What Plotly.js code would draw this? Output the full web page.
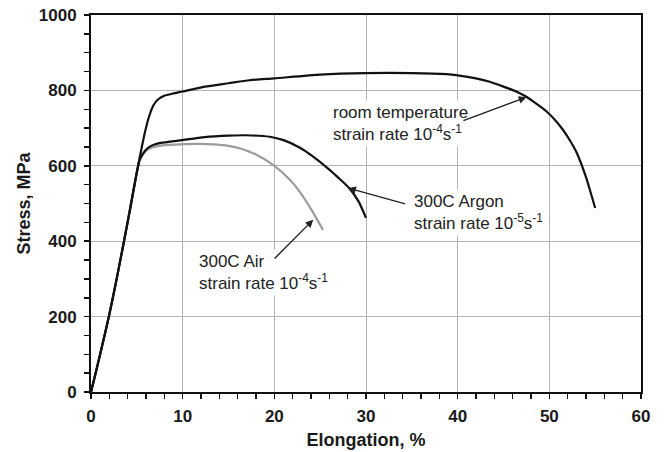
<!DOCTYPE html>
<html>
<head>
<meta charset="utf-8">
<script src="https://cdn.plot.ly/plotly-3.0.1.min.js"></script>
<style>
  html, body { margin: 0; padding: 0; background: #fff; }
  #chart { width: 665px; height: 452px; }
</style>
</head>
<body>
<div id="chart"></div>
<script>
// Tensile curves: stress (MPa) vs elongation (%)
const roomElong = [0, 0.4, 0.9, 1.4, 1.95, 2.8, 3.6, 4.3, 4.9, 5.3, 5.8, 6.3, 6.8, 7.3, 8.0, 9.0, 10.0, 12.4, 15, 17.3, 20, 25, 30, 35, 38.8, 40, 42, 43.5, 45, 46.5, 47.5, 48.5, 49.7, 50.5, 51.5, 52.3, 53.0, 54.0, 54.5, 55.0];
const roomStress = [0, 40, 90, 142, 200, 300, 400, 490, 570, 620, 680, 728, 760, 776, 786, 792, 797, 810, 819, 827, 832, 842, 846, 846, 843, 840, 832, 823, 810, 796, 783, 766, 744, 725, 695, 665, 634, 570, 530, 488];

const argonElong = [0, 0.4, 0.9, 1.4, 1.95, 2.8, 3.6, 4.3, 4.9, 5.3, 5.8, 6.3, 7.0, 8.0, 9.9, 12.4, 15, 17, 19.5, 21, 22.8, 24.2, 26, 27, 28.2, 29.2, 30.0];
const argonStress = [0, 40, 90, 142, 200, 300, 400, 490, 570, 615, 637, 649, 657, 662, 668, 676, 680, 681, 677, 668, 648, 625, 590, 568, 540, 505, 462];

const airElong = [0, 0.4, 0.9, 1.4, 1.95, 2.8, 3.6, 4.3, 4.9, 5.3, 5.8, 6.3, 7.0, 8.0, 9.7, 12, 13.3, 15, 16.3, 18, 19.9, 21.7, 22.8, 24.2, 25.3];
const airStress = [0, 40, 90, 142, 200, 300, 400, 490, 570, 615, 634, 645, 651, 655, 657, 658, 657, 653, 646, 630, 602, 563, 530, 477, 430];

const FONT = '"Liberation Sans", Arial, Helvetica, sans-serif';
const INK = '#1a1a1a';

const traces = [
  { x: airElong, y: airStress, name: '300C Air', mode: 'lines',
    line: { color: '#9c9c9c', width: 2.2, shape: 'spline', smoothing: 0.6 } },
  { x: argonElong, y: argonStress, name: '300C Argon', mode: 'lines',
    line: { color: '#111', width: 2.2, shape: 'spline', smoothing: 0.6 } },
  { x: roomElong, y: roomStress, name: 'room temperature', mode: 'lines',
    line: { color: '#111', width: 2.2, shape: 'spline', smoothing: 0.6 } }
];

function label(x, y, text) {
  return { x: x, y: y, xref: 'x', yref: 'y', text: text, showarrow: false,
    xanchor: 'left', yanchor: 'middle', align: 'left',
    bgcolor: '#fff', borderpad: 2,
    font: { family: FONT, size: 17, color: '#222' } };
}
function pointer(x0, y0, x1, y1) {
  return { x: x1, y: y1, ax: x0, ay: y0, xref: 'x', yref: 'y', axref: 'x', ayref: 'y',
    text: ' ', showarrow: true, arrowhead: 2, arrowsize: 1.1, arrowwidth: 1.4,
    arrowcolor: '#222', standoff: 0, startstandoff: 0 };
}

const annotations = [
  label(26.1, 712, 'room temperature<br>strain rate 10<sup>-4</sup>s<sup>-1</sup>'),
  label(34.9, 476, '300C Argon<br>strain rate 10<sup>-5</sup>s<sup>-1</sup>'),
  label(11.5, 318, '300C Air<br>strain rate 10<sup>-4</sup>s<sup>-1</sup>'),
  pointer(40.3, 717, 47.5, 782),
  pointer(34.6, 497, 28.06, 541),
  pointer(19.7, 346, 24.24, 457)
];

const axisCommon = {
  showline: true, linecolor: '#111', linewidth: 2, mirror: true,
  showgrid: true, gridcolor: '#b4b4b4', gridwidth: 1,
  zeroline: false,
  ticks: 'outside', ticklen: 5, tickwidth: 1.5, tickcolor: '#111',
  tickfont: { family: FONT, size: 17, color: INK, weight: 'bold' }
};

const layout = {
  width: 665, height: 452,
  margin: { l: 91, r: 24, t: 15, b: 60 },
  paper_bgcolor: '#fff', plot_bgcolor: '#fff',
  showlegend: false,
  xaxis: Object.assign({}, axisCommon, {
    range: [0, 60], tick0: 0, dtick: 10,
    ticklabelstandoff: 3,
    minor: { dtick: 2, ticks: 'outside', ticklen: 5, tickwidth: 1.5, tickcolor: '#111', showgrid: false },
    title: { text: 'Elongation, %', standoff: 8,
      font: { family: FONT, size: 18, color: INK, weight: 'bold' } }
  }),
  yaxis: Object.assign({}, axisCommon, {
    range: [0, 1000], tick0: 0, dtick: 200,
    ticklabelstandoff: 4,
    minor: { dtick: 50, ticks: 'outside', ticklen: 5, tickwidth: 1.5, tickcolor: '#111', showgrid: false },
    title: { text: 'Stress, MPa', standoff: 3,
      font: { family: FONT, size: 18, color: INK, weight: 'bold' } }
  }),
  annotations: annotations
};

Plotly.newPlot('chart', traces, layout, { staticPlot: true, displayModeBar: false });
</script>
</body>
</html>
